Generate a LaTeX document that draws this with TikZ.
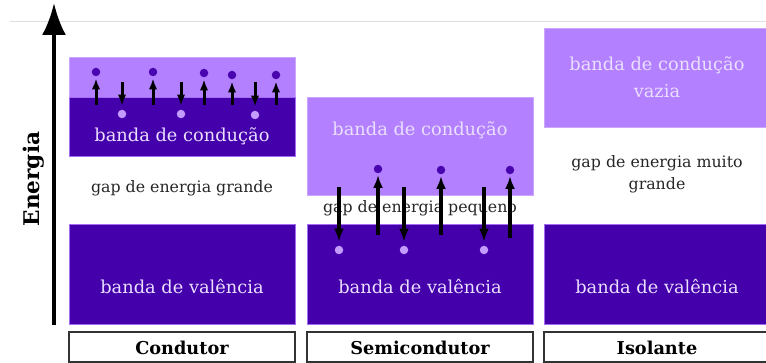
\documentclass[tikz,border=0pt]{standalone}
\usepackage{fontspec}
\setmainfont{DejaVu Serif}
\usetikzlibrary{arrows.meta}
\definecolor{lightband}{HTML}{B380FF}
\definecolor{darkband}{HTML}{4400AA}
\definecolor{bandtext}{HTML}{EADFFF}
\definecolor{holedot}{HTML}{C49BFF}
\definecolor{elecdot}{HTML}{4A06AE}
\begin{document}
\begin{tikzpicture}[x=1pt,y=-1pt,
  boxbase/.style={anchor=north west, inner sep=0pt, outer sep=0pt, line width=0.8pt},
  lightbox/.style={boxbase, fill=lightband, draw=lightband!70!white},
  darkbox/.style={boxbase, fill=darkband, draw=lightband!85!darkband},
  labelbox/.style={boxbase, fill=white, draw=black!80, line width=1.3pt},
  bandlabel/.style={text=bandtext, font=\fontsize{17.8}{20}\selectfont, inner sep=0pt},
  gaplabel/.style={text=black!85, font=\fontsize{15.8}{22}\selectfont, inner sep=0pt, align=center},
  kindlabel/.style={text=black, font=\bfseries\fontsize{17.7}{20}\selectfont, inner sep=0pt},
  elec/.style={circle, fill=elecdot, minimum size=8.5pt, inner sep=0pt},
  hole/.style={circle, fill=holedot, minimum size=8.5pt, inner sep=0pt},
  jumpc/.style={line width=3pt, -{Latex[length=11pt,width=8.5pt]}},
  jumps/.style={line width=4pt, -{Latex[length=13pt,width=10pt]}}
]
\useasboundingbox (0,0) rectangle (766,363);
% faint top rule
\coordinate (ruleL) at (10,21);
\coordinate (ruleR) at (766,21);
\draw[black!13, line width=0.8pt] (ruleL) -- (ruleR);

% ---- Conductor ----
\node[lightbox, minimum width=226pt, minimum height=40pt] (c-top) at (69,57) {};
\node[darkbox, minimum width=226pt, minimum height=59pt] (c-cond) at (69,97) {};
\node[darkbox, minimum width=226pt, minimum height=100pt] (c-val) at (69,224) {};
\node[labelbox, minimum width=226pt, minimum height=30pt] (c-lab) at (69,332) {};
\node[bandlabel] (c-condtxt) at (182,136) {banda de condução};
\node[gaplabel] (c-gaptxt) at (182,188) {gap de energia grande};
\node[bandlabel] (c-valtxt) at (182,287) {banda de valência};
\node[kindlabel] (c-kind) at (182,348) {Condutor};

% ---- Semiconductor ----
\node[lightbox, minimum width=226pt, minimum height=98pt] (s-cond) at (307,97) {};
\node[darkbox, minimum width=226pt, minimum height=100pt] (s-val) at (307,224) {};
\node[labelbox, minimum width=226pt, minimum height=30pt] (s-lab) at (307,332) {};
\node[bandlabel] (s-condtxt) at (420,130) {banda de condução};
\node[gaplabel] (s-gaptxt) at (420,208) {gap de energia pequeno};
\node[bandlabel] (s-valtxt) at (420,287) {banda de valência};
\node[kindlabel] (s-kind) at (420,348) {Semicondutor};

% ---- Insulator ----
\node[lightbox, minimum width=227pt, minimum height=99pt] (i-cond) at (544,28) {};
\node[darkbox, minimum width=227pt, minimum height=100pt] (i-val) at (544,224) {};
\node[labelbox, minimum width=227pt, minimum height=30pt] (i-lab) at (544,332) {};
\node[bandlabel, align=center, font=\fontsize{17.8}{27}\selectfont] (i-condtxt) at (657,77) {banda de condução\\vazia};
\node[gaplabel] (i-gaptxt) at (657,174) {gap de energia muito\\grande};
\node[bandlabel] (i-valtxt) at (657,287) {banda de valência};
\node[kindlabel] (i-kind) at (657,348) {Isolante};

% ---- Energy axis ----
\coordinate (e-bot) at (54,325);
\coordinate (e-top) at (54,3);
\draw[line width=4pt, -{Latex[length=32pt,width=24pt]}] (e-bot) -- (e-top);
\node[rotate=90, font=\bfseries\fontsize{21.6}{24}\selectfont, inner sep=0pt] (e-lab) at (34,179) {Energia};

% ---- Conductor electrons ----
\foreach \i/\x/\y in {1/96/72, 2/153/72, 3/204/73, 4/232/75, 5/276/75} {
  \node[elec] (ce\i) at (\x,\y) {};
  \coordinate (ces\i) at (\x,105);
  \draw[jumpc, shorten >=2pt] (ces\i) -- (ce\i);
}
\foreach \i/\x/\y in {1/122/114, 2/181/114, 3/255/115} {
  \node[hole] (ch\i) at (\x,\y) {};
  \coordinate (chs\i) at (\x,82);
  \draw[jumpc, shorten >=4pt] (chs\i) -- (ch\i);
}

% ---- Semiconductor electrons ----
\foreach \i/\x/\y/\s in {1/378/169/235, 2/441/170/235, 3/510/170/238} {
  \node[elec] (se\i) at (\x,\y) {};
  \coordinate (ses\i) at (\x,\s);
  \draw[jumps, shorten >=1.5pt] (ses\i) -- (se\i);
}
\foreach \i/\x in {1/339, 2/404, 3/484} {
  \node[hole] (sh\i) at (\x,250) {};
  \coordinate (shs\i) at (\x,187);
  \draw[jumps, shorten >=4pt] (shs\i) -- (sh\i);
}
\end{tikzpicture}
\end{document}
